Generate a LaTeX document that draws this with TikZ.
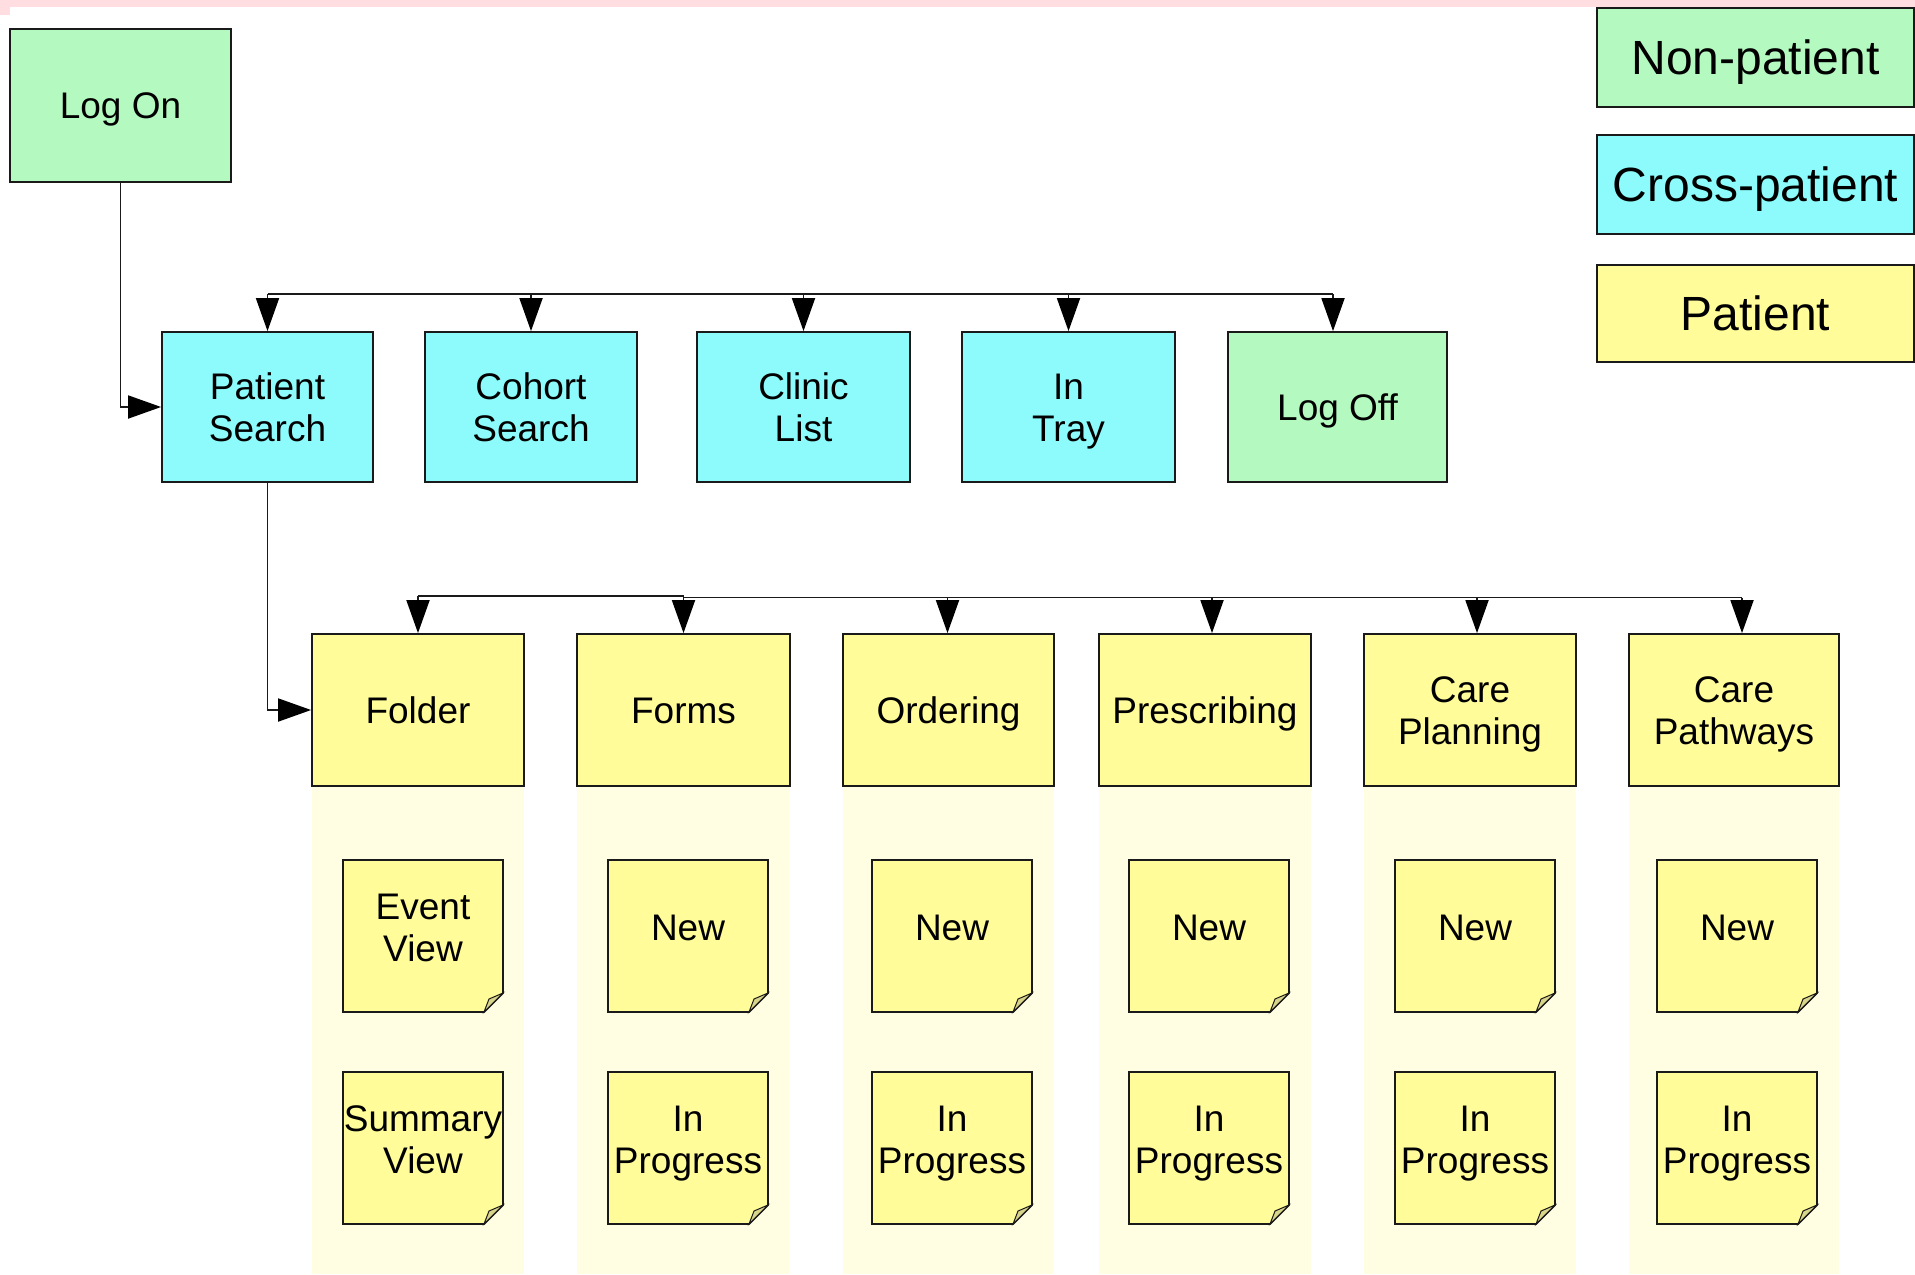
\documentclass[tikz,border=0pt]{standalone}
\usepackage{fontspec}
\setmainfont{Liberation Sans}
\usetikzlibrary{arrows.meta,calc}

\definecolor{nonpat}{HTML}{B4F9C0}
\definecolor{crosspat}{HTML}{8DFBFB}
\definecolor{patient}{HTML}{FFFC99}
\definecolor{lane}{HTML}{FFFEE3}
\definecolor{flap}{HTML}{D8D48A}
\definecolor{topband}{HTML}{FFDDE0}
\definecolor{inkline}{HTML}{1A1A1A}

% one text line whose height is the cap height and whose depth is zero,
% so every label is centred on its letters
\newcommand{\capline}[1]{\smash{#1}\rule{0pt}{0.72em}}

\tikzset{
  box/.style={draw=inkline, line width=0.9pt, align=center, inner sep=0pt,
              font=\fontsize{18.5}{21}\selectfont},
  boxsize/.style 2 args={minimum width=#1*0.5pt, minimum height=#2*0.5pt},
  nonpatbox/.style={box, fill=nonpat},
  crossbox/.style={box, fill=crosspat},
  patbox/.style={box, fill=patient},
  legendbox/.style={box, font=\fontsize{24}{28}\selectfont},
  link/.style={draw=inkline, line width=0.9pt},
  arr/.style={link, -{Triangle[length=16.5pt,width=11.5pt,color=black,fill=black]}},
  notetext/.style={align=center, inner sep=0pt, font=\fontsize{18.5}{21}\selectfont},
}

% sticky note: name, left x, top y, text (pixel-style coordinates)
\newcommand{\stickynote}[4]{%
  \draw[inkline, line width=0.9pt, fill=patient]
    (#2,#3) -- ++(160,0) -- ++(0,133) -- ++(-19,19) -- ++(-141,0) -- cycle;
  \draw[inkline, line width=0.5pt, fill=flap]
    (#2+160,#3+133) -- (#2+146,#3+139) -- (#2+141,#3+152) -- cycle;
  \node[notetext] (#1) at (#2+80,#3+67) {#4};
}

\begin{document}
\begin{tikzpicture}[x=0.5pt,y=-0.5pt]
\clip (0,0) rectangle (1915,1274);
\fill[white] (0,0) rectangle (1915,1274);

% top band
\fill[topband] (0,0) rectangle (1915,7);
\fill[topband] (0,0) rectangle (10,15);

% pale lanes under the patient functions
\foreach \l/\r in {312/524, 577/790, 843/1054, 1099/1311, 1364/1576, 1629/1839}
  \fill[lane] (\l,786) rectangle (\r,1274);

% legend
\node[legendbox, fill=nonpat, boxsize={317}{99}] (keynon) at (1755.5,57.5) {\capline{Non-patient}};
\node[legendbox, fill=crosspat, boxsize={317}{99}] (keycross) at (1755.5,184.5) {\capline{Cross-patient}};
\node[legendbox, fill=patient, boxsize={317}{97}] (keypat) at (1755.5,313.5) {\capline{Patient}};

% entry
\node[nonpatbox, boxsize={221}{153}] (logon) at (120.5,105.5) {\capline{Log On}};

% cross-patient level
\node[crossbox, boxsize={211}{150}] (psearch) at (267.5,407) {\capline{Patient}\\\capline{Search}};
\node[crossbox, boxsize={212}{150}] (csearch) at (531,407) {\capline{Cohort}\\\capline{Search}};
\node[crossbox, boxsize={213}{150}] (clinic) at (803.5,407) {\capline{Clinic}\\\capline{List}};
\node[crossbox, boxsize={213}{150}] (intray) at (1068.5,407) {\capline{In}\\\capline{Tray}};
\node[nonpatbox, boxsize={219}{150}] (logoff) at (1337.5,407) {\capline{Log Off}};

% patient level
\node[patbox, boxsize={212}{152}] (folder) at (418,710) {\capline{Folder}};
\node[patbox, boxsize={213}{152}] (forms) at (683.5,710) {\capline{Forms}};
\node[patbox, boxsize={211}{152}] (ordering) at (948.5,710) {\capline{Ordering}};
\node[patbox, boxsize={212}{152}] (prescribing) at (1205,710) {\capline{Prescribing}};
\node[patbox, boxsize={212}{152}] (careplan) at (1470,710) {\capline{Care}\\\capline{Planning}};
\node[patbox, boxsize={210}{152}] (carepath) at (1734,710) {\capline{Care}\\\capline{Pathways}};

% sub-views
\stickynote{eventview}{343}{860}{\capline{Event}\\\capline{View}}
\stickynote{summaryview}{343}{1072}{\capline{Summary}\\\capline{View}}
\stickynote{formsnew}{608}{860}{\capline{New}}
\stickynote{formsprog}{608}{1072}{\capline{In}\\\capline{Progress}}
\stickynote{ordernew}{872}{860}{\capline{New}}
\stickynote{orderprog}{872}{1072}{\capline{In}\\\capline{Progress}}
\stickynote{prescnew}{1129}{860}{\capline{New}}
\stickynote{prescprog}{1129}{1072}{\capline{In}\\\capline{Progress}}
\stickynote{plannew}{1395}{860}{\capline{New}}
\stickynote{planprog}{1395}{1072}{\capline{In}\\\capline{Progress}}
\stickynote{pathnew}{1657}{860}{\capline{New}}
\stickynote{pathprog}{1657}{1072}{\capline{In}\\\capline{Progress}}

% connectors: log on to patient search
\draw[arr] (logon.south) |- (psearch.west);

% upper bus
\coordinate (busA) at (0,294);
\draw[link] (psearch.north |- busA) -- ([xshift=-2.25pt]logoff.north |- busA);
\foreach \n in {psearch,csearch,clinic,intray}
  \draw[arr] (\n.north |- busA) -- (\n.north);
\draw[arr] ([xshift=-2.25pt]logoff.north |- busA) -- ([xshift=-2.25pt]logoff.north);

% patient search to folder
\draw[arr] (psearch.south) |- (folder.west);

% lower bus
\coordinate (busB) at (0,596);
\coordinate (busC) at (0,597.5);
\draw[link] (folder.north |- busB) -- (forms.north |- busB) -- (forms.north |- busC)
  -- ([xshift=4pt]carepath.north |- busC);
\draw[arr] (folder.north |- busB) -- (folder.north);
\draw[arr] (forms.north |- busC) -- (forms.north);
\draw[arr] ([xshift=-0.5pt]ordering.north |- busC) -- ([xshift=-0.5pt]ordering.north);
\draw[arr] ([xshift=3.5pt]prescribing.north |- busC) -- ([xshift=3.5pt]prescribing.north);
\draw[arr] ([xshift=3.5pt]careplan.north |- busC) -- ([xshift=3.5pt]careplan.north);
\draw[arr] ([xshift=4pt]carepath.north |- busC) -- ([xshift=4pt]carepath.north);
\end{tikzpicture}
\end{document}
